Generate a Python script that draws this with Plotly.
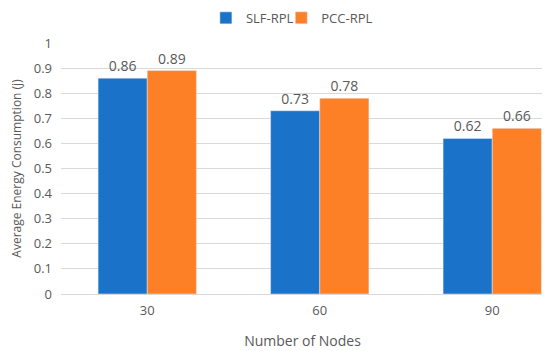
import plotly.graph_objects as go

categories = ["30", "60", "90"]
slf_rpl = [0.86, 0.73, 0.62]
pcc_rpl = [0.89, 0.78, 0.66]
y_ticks = [0, 0.1, 0.2, 0.3, 0.4, 0.5, 0.6, 0.7, 0.8, 0.9, 1]
y_tick_labels = ["0", "0.1", "0.2", "0.3", "0.4", "0.5", "0.6", "0.7", "0.8", "0.9", "1"]

font_color = "#595959"
fig = go.Figure()
fig.add_trace(go.Bar(name="SLF-RPL", x=categories, y=slf_rpl, marker_color="#1a73c9",
                     text=[f"{v:.2f}" for v in slf_rpl], textposition="outside",
                     textfont=dict(size=14, color=font_color), cliponaxis=False,
                     legend="legend"))
fig.add_trace(go.Bar(name="PCC-RPL", x=categories, y=pcc_rpl, marker_color="#fd7f26",
                     text=[f"{v:.2f}" for v in pcc_rpl], textposition="outside",
                     textfont=dict(size=14, color=font_color), cliponaxis=False,
                     legend="legend2"))

legend_common = dict(orientation="h", y=1.10, yanchor="middle", xanchor="left",
                     font=dict(size=13, color=font_color), itemwidth=30,
                     bgcolor="rgba(0,0,0,0)")

fig.update_layout(
    width=550, height=351,
    margin=dict(l=53, r=14, t=35, b=65, autoexpand=False),
    paper_bgcolor="white", plot_bgcolor="white",
    font=dict(family="Open Sans", size=12, color=font_color),
    barmode="group", bargap=0.43, bargroupgap=0,
    showlegend=True,
    legend=dict(x=0.30, **legend_common),
    legend2=dict(x=0.456, **legend_common),
    xaxis=dict(type="category", range=[-0.5, 2.3], showgrid=False, showline=False,
               ticks="", tickfont=dict(size=13), automargin=False, ticklabelstandoff=7,
               title=dict(text="Number of Nodes", font=dict(size=14), standoff=18)),
    yaxis=dict(range=[0, 1], tickvals=y_ticks, ticktext=y_tick_labels,
               showgrid=True, gridcolor="#d9d9d9", gridwidth=1,
               zeroline=True, zerolinecolor="#d9d9d9", zerolinewidth=1,
               showline=False, ticks="", tickfont=dict(size=13), automargin=False,
               ticklabelstandoff=8,
               title=dict(text="Average Energy Consumption (j)", font=dict(size=12), standoff=18)),
)

fig.write_html("out.html")
